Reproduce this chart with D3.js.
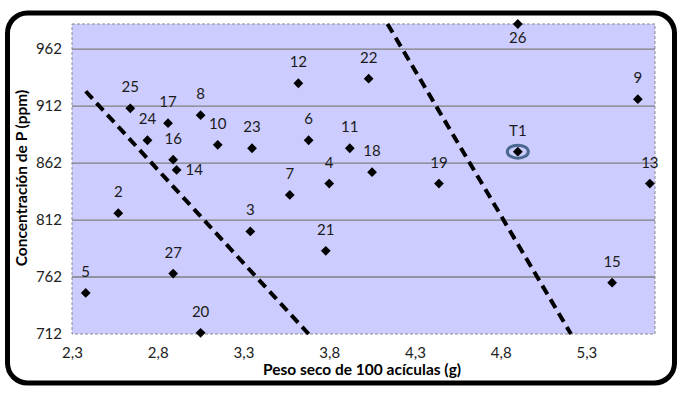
<!DOCTYPE html>
<html>
<head>
<meta charset="utf-8">
<script src="https://cdn.jsdelivr.net/npm/d3@7"></script>
<style>
  body { margin: 0; background: #fff; }
  svg text { font-family: Lato, "Open Sans", sans-serif; }
</style>
</head>
<body>
<svg id="chart"></svg>
<script>
// point labels, x (g), y (ppm)
let labels = ['5', '2', '27', '20', '25', '24', '17', '8', '10', '16', '14', '23', '12', '22', '6', '11', '18', '4', '19', '7', '3', '21', '26', '9', 'T1', '13', '15'];
let pesoX = [2.38, 2.57, 2.89, 3.05, 2.64, 2.74, 2.86, 3.05, 3.15, 2.89, 2.91, 3.35, 3.62, 4.03, 3.68, 3.92, 4.05, 3.80, 4.44, 3.57, 3.34, 3.78, 4.90, 5.60, 4.90, 5.67, 5.45];
let concY = [748, 818, 765, 713, 910, 882, 897, 904, 878, 865, 856, 875, 932, 936, 882, 875, 854, 844, 844, 834, 802, 785, 984, 918, 872, 844, 757];
// where the label sits relative to its point
let labelPos = ['up', 'up', 'up', 'up', 'up', 'up', 'up', 'up', 'up', 'up', 'right', 'up', 'up', 'up', 'up', 'up', 'up', 'up', 'up', 'up', 'up', 'up', 'down', 'up', 'up', 'up', 'up'];

// the two dashed limit lines
let limit1X = [2.38, 3.68];
let limit1Y = [925, 712];
let limit2X = [4.14, 5.21];
let limit2Y = [984, 712];

let xTicks = [2.3, 2.8, 3.3, 3.8, 4.3, 4.8, 5.3];
let yTicks = [712, 762, 812, 862, 912, 962];

let width = 684, height = 393;
let margin = {top: 24, left: 72, right: 29, bot: 59};
let bodyWidth = width - margin.left - margin.right;
let bodyHeight = height - margin.top - margin.bot;

let svg = d3.select('#chart').attr('width', width).attr('height', height);

// outer rounded frame
svg.append('rect')
    .attr('x', 7.5).attr('y', 13)
    .attr('width', 667).attr('height', 370)
    .attr('rx', 20).attr('ry', 20)
    .attr('fill', '#fff')
    .attr('stroke', '#000')
    .attr('stroke-width', 5);

let xScale = d3.scaleLinear().domain([2.3, 5.7]).range([0, bodyWidth]);
let yScale = d3.scaleLinear().domain([712, 984]).range([bodyHeight, 0]);

let body = svg.append('g')
    .attr('transform', `translate(${margin.left},${margin.top})`);

body.append('rect')
    .attr('width', bodyWidth).attr('height', bodyHeight)
    .attr('fill', '#ccccff');

// gridlines
body.append('g')
    .selectAll('line')
    .data(yTicks.slice(1))
    .join('line')
    .attr('x1', 0).attr('x2', bodyWidth)
    .attr('y1', d => yScale(d)).attr('y2', d => yScale(d))
    .attr('stroke', '#808080')
    .attr('stroke-width', 1.3);

// dashed plot border
body.append('rect')
    .attr('width', bodyWidth).attr('height', bodyHeight)
    .attr('fill', 'none')
    .attr('stroke', '#8a8a8a')
    .attr('stroke-width', 1)
    .attr('stroke-dasharray', '3,2');

let fmt = d => d3.format('.1f')(d).replace('.', ',');

let xAxis = body.append('g')
    .attr('transform', `translate(0,${bodyHeight})`)
    .call(d3.axisBottom(xScale).tickValues(xTicks).tickFormat(fmt).tickSize(0).tickPadding(13));
xAxis.select('.domain').remove();
xAxis.selectAll('text').attr('font-size', 15).attr('fill', '#222')
    .attr('font-family', 'Lato, sans-serif');

let yAxis = body.append('g')
    .call(d3.axisLeft(yScale).tickValues(yTicks).tickSize(0).tickPadding(10));
yAxis.select('.domain').remove();
yAxis.selectAll('text').attr('font-size', 15).attr('fill', '#222')
    .attr('font-family', 'Lato, sans-serif');

// limit lines
let line = d3.line().x(d => xScale(d[0])).y(d => yScale(d[1]));
[[limit1X, limit1Y], [limit2X, limit2Y]].forEach(([xs, ys]) => {
    body.append('path')
        .attr('d', line(xs.map((x, i) => [x, ys[i]])))
        .attr('fill', 'none')
        .attr('stroke', '#000')
        .attr('stroke-width', 4)
        .attr('stroke-dasharray', '10,6');
});

let points = labels.map((l, i) => ({label: l, x: pesoX[i], y: concY[i], pos: labelPos[i]}));

// T1 highlight ring
let t1 = points.find(p => p.label === 'T1');
body.append('ellipse')
    .attr('cx', xScale(t1.x)).attr('cy', yScale(t1.y))
    .attr('rx', 10.5).attr('ry', 6.5)
    .attr('fill', 'none')
    .attr('stroke', '#4a6890')
    .attr('stroke-width', 3);

body.append('g')
    .selectAll('path')
    .data(points)
    .join('path')
    .attr('d', d3.symbol().type(d3.symbolSquare).size(48))
    .attr('transform', d => `translate(${xScale(d.x)},${yScale(d.y)}) rotate(45)`)
    .attr('fill', '#000');

body.append('g')
    .selectAll('text')
    .data(points)
    .join('text')
    .attr('x', d => xScale(d.x) + (d.pos === 'right' ? 9 : 0))
    .attr('y', d => yScale(d.y) + (d.pos === 'up' ? -16 : d.pos === 'down' ? 19 : 5))
    .attr('text-anchor', d => d.pos === 'right' ? 'start' : 'middle')
    .attr('font-size', 15)
    .attr('fill', '#1a1a1a')
    .text(d => d.label);

// axis titles
svg.append('text')
    .attr('x', 362)
    .attr('y', 375)
    .attr('text-anchor', 'middle')
    .attr('font-size', 15.5)
    .attr('font-weight', 'bold')
    .text('Peso seco de 100 acículas (g)');

svg.append('text')
    .attr('transform', 'rotate(-90)')
    .attr('x', -178)
    .attr('y', 27)
    .attr('text-anchor', 'middle')
    .attr('font-size', 15.5)
    .attr('font-weight', 'bold')
    .text('Concentración de P (ppm)');
</script>
</body>
</html>
